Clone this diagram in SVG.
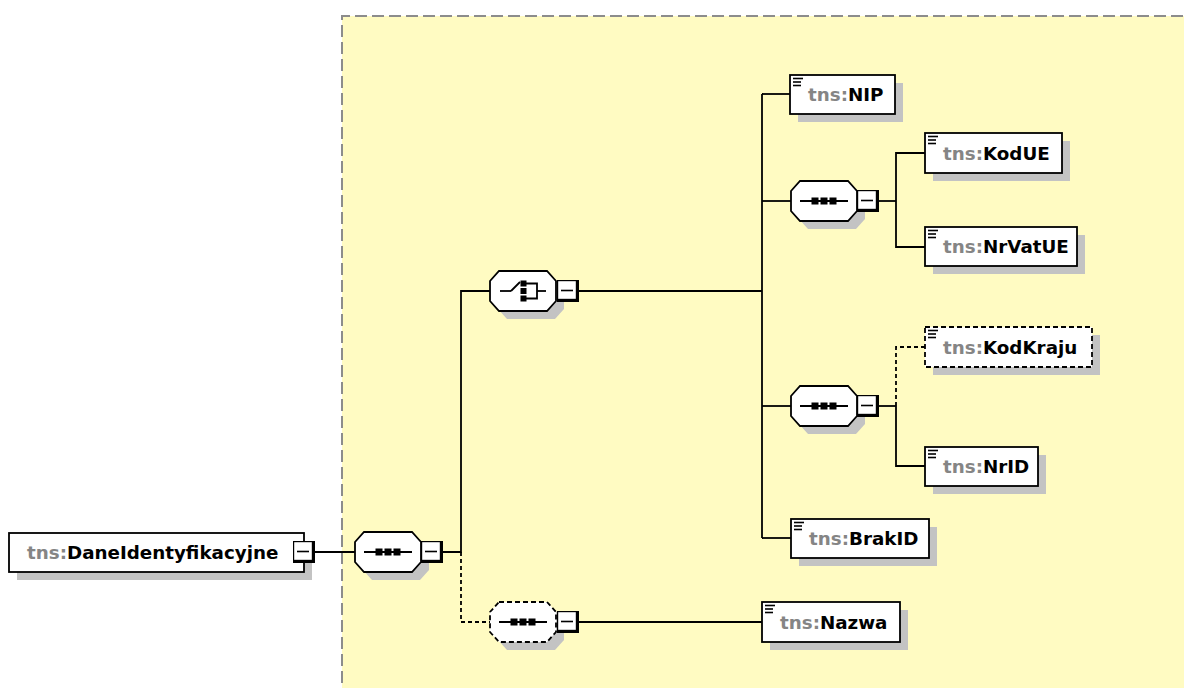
<svg xmlns="http://www.w3.org/2000/svg" width="1184" height="688" viewBox="0 0 1184 688">
<defs>
<style>
.bg{fill:#fffbc2}
.frame{fill:none;stroke:#8c8c8c;stroke-width:2;stroke-dasharray:12 5}
.sh{fill:#c3c3c3}
.box{fill:#fff;stroke:#000;stroke-width:1.8}
.dbox{fill:#fff;stroke:#000;stroke-width:1.8;stroke-dasharray:5 3}
.oct{fill:#fff;stroke:#000;stroke-width:1.8}
.doct{fill:#fff;stroke:#000;stroke-width:1.8;stroke-dasharray:5 3}
.ln{fill:none;stroke:#000;stroke-width:1.8}
.dln{fill:none;stroke:#000;stroke-width:1.8;stroke-dasharray:4 3}
.ic{fill:none;stroke:#000;stroke-width:1.8}
.sq{fill:#000}
.t{font-family:"DejaVu Sans",Verdana,sans-serif;font-size:18.3px;font-weight:bold}
.p{fill:#858585}
.n{fill:#000}
</style>
<g id="minus">
<rect x="0" y="0" width="22" height="22" fill="#000"/>
<rect x="1.2" y="1.2" width="17.6" height="17.6" fill="#fff"/>
<line x1="4" y1="10.5" x2="16" y2="10.5" stroke="#000" stroke-width="1.6"/>
</g>
<path id="octshape" d="M9,0 H57 L66,10 V30 L57,40 H9 L0,30 V10 Z"/>
<g id="seqicon">
<line x1="9" y1="20" x2="57" y2="20" class="ic"/>
<rect x="20.5" y="16.5" width="7" height="7" class="sq"/>
<rect x="29.5" y="16.5" width="7" height="7" class="sq"/>
<rect x="38.5" y="16.5" width="7" height="7" class="sq"/>
</g>
<g id="elicon">
<line x1="3" y1="3.5" x2="13" y2="3.5" stroke="#000" stroke-width="1.6"/>
<line x1="3" y1="7" x2="11" y2="7" stroke="#000" stroke-width="1.6"/>
<line x1="3" y1="10.5" x2="11" y2="10.5" stroke="#000" stroke-width="1.6"/>
</g>
</defs>

<rect x="342" y="16" width="860" height="690" class="bg"/>
<path d="M342,700 V16 H1200" class="frame"/>

<g id="connectors">
<line x1="315" y1="552" x2="355" y2="552" class="ln"/>
<polyline points="443,552 461,552 461,291 490,291" class="ln"/>
<polyline points="461,552 461,622 490,622" class="dln"/>
<line x1="579" y1="291" x2="762" y2="291" class="ln"/>
<line x1="762" y1="94" x2="762" y2="538" class="ln"/>
<line x1="762" y1="94" x2="790" y2="94" class="ln"/>
<line x1="762" y1="201" x2="791" y2="201" class="ln"/>
<line x1="762" y1="406" x2="791" y2="406" class="ln"/>
<line x1="762" y1="538" x2="791" y2="538" class="ln"/>
<line x1="879" y1="201" x2="896" y2="201" class="ln"/>
<polyline points="925,153 896,153 896,247 925,247" class="ln"/>
<line x1="879" y1="406" x2="896" y2="406" class="ln"/>
<polyline points="925,347 896,347 896,406" class="dln"/>
<polyline points="896,406 896,466 925,466" class="ln"/>
<line x1="579" y1="622" x2="762" y2="622" class="ln"/>
</g>

<g id="root">
<rect x="17" y="541" width="295" height="39" class="sh"/>
<rect x="9" y="533" width="295" height="39" class="box"/>
<text x="27" y="559" class="t"><tspan class="p">tns:</tspan><tspan class="n">DaneIdentyfikacyjne</tspan></text>
<use href="#minus" x="293" y="541"/>
</g>

<g id="seq-main">
<use href="#octshape" x="363" y="540" class="sh"/>
<use href="#octshape" x="355" y="532" class="oct"/>
<use href="#seqicon" x="355" y="532"/>
<use href="#minus" x="421" y="541"/>
</g>

<g id="choice">
<use href="#octshape" x="498" y="279" class="sh"/>
<use href="#octshape" x="490" y="271" class="oct"/>
<line x1="500" y1="291" x2="511" y2="291" class="ic"/>
<line x1="511" y1="291" x2="520" y2="282" class="ic"/>
<rect x="520.5" y="280.5" width="6" height="6" class="sq"/>
<rect x="520.5" y="288" width="6" height="6" class="sq"/>
<rect x="520.5" y="295.5" width="6" height="6" class="sq"/>
<polyline points="526,283.5 537,283.5 537,298.5 526,298.5" class="ic"/>
<line x1="537" y1="291" x2="546" y2="291" class="ic"/>
<use href="#minus" x="557" y="280"/>
</g>

<g id="seq-ue">
<use href="#octshape" x="799" y="189" class="sh"/>
<use href="#octshape" x="791" y="181" class="oct"/>
<use href="#seqicon" x="791" y="181"/>
<use href="#minus" x="857" y="190"/>
</g>

<g id="seq-id">
<use href="#octshape" x="799" y="394" class="sh"/>
<use href="#octshape" x="791" y="386" class="oct"/>
<use href="#seqicon" x="791" y="386"/>
<use href="#minus" x="857" y="395"/>
</g>

<g id="seq-nazwa">
<use href="#octshape" x="498" y="610" class="sh"/>
<use href="#octshape" x="490" y="602" class="doct"/>
<use href="#seqicon" x="490" y="602"/>
<use href="#minus" x="557" y="611"/>
</g>

<g id="nip">
<rect x="798" y="83" width="105" height="39" class="sh"/>
<rect x="790" y="75" width="105" height="39" class="box"/>
<use href="#elicon" x="790" y="75"/>
<text x="808" y="101" class="t"><tspan class="p">tns:</tspan><tspan class="n">NIP</tspan></text>
</g>

<g id="kodue">
<rect x="933" y="141" width="137" height="40" class="sh"/>
<rect x="925" y="133" width="137" height="40" class="box"/>
<use href="#elicon" x="925" y="133"/>
<text x="943" y="159.5" class="t"><tspan class="p">tns:</tspan><tspan class="n">KodUE</tspan></text>
</g>

<g id="nrvatue">
<rect x="933" y="235" width="152" height="39" class="sh"/>
<rect x="925" y="227" width="152" height="39" class="box"/>
<use href="#elicon" x="925" y="227"/>
<text x="943" y="253" class="t"><tspan class="p">tns:</tspan><tspan class="n">NrVatUE</tspan></text>
</g>

<g id="kodkraju">
<rect x="933" y="335" width="167" height="40" class="sh"/>
<rect x="925" y="327" width="167" height="40" class="dbox"/>
<use href="#elicon" x="925" y="327"/>
<text x="943" y="353.5" class="t"><tspan class="p">tns:</tspan><tspan class="n">KodKraju</tspan></text>
</g>

<g id="nrid">
<rect x="933" y="455" width="113" height="39" class="sh"/>
<rect x="925" y="447" width="113" height="39" class="box"/>
<use href="#elicon" x="925" y="447"/>
<text x="943" y="473" class="t"><tspan class="p">tns:</tspan><tspan class="n">NrID</tspan></text>
</g>

<g id="brakid">
<rect x="799" y="527" width="138" height="39" class="sh"/>
<rect x="791" y="519" width="138" height="39" class="box"/>
<use href="#elicon" x="791" y="519"/>
<text x="809" y="545" class="t"><tspan class="p">tns:</tspan><tspan class="n">BrakID</tspan></text>
</g>

<g id="nazwa">
<rect x="770" y="610" width="138" height="40" class="sh"/>
<rect x="762" y="602" width="138" height="40" class="box"/>
<use href="#elicon" x="762" y="602"/>
<text x="780" y="628.5" class="t"><tspan class="p">tns:</tspan><tspan class="n">Nazwa</tspan></text>
</g>
</svg>
